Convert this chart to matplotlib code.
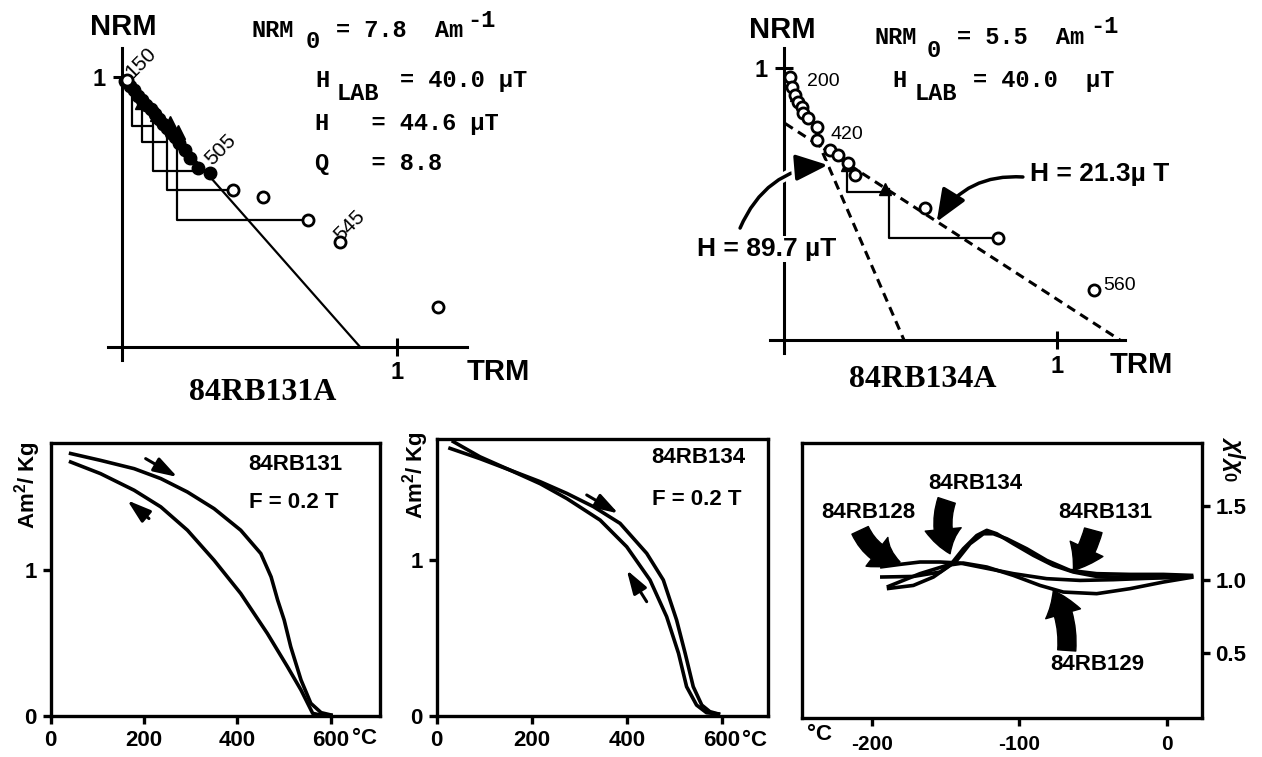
import numpy as np
import matplotlib.pyplot as plt
from matplotlib.patches import FancyArrowPatch
import matplotlib.patheffects as pe

plt.rcParams['font.family'] = ['Liberation Sans', 'DejaVu Sans']
plt.rcParams['mathtext.fontset'] = 'custom'
plt.rcParams['mathtext.rm'] = 'Liberation Sans:bold'
plt.rcParams['mathtext.bf'] = 'Liberation Sans:bold'
plt.rcParams['mathtext.it'] = 'Liberation Sans:bold:italic'

W, H = 1262, 757
SANS = 'Liberation Sans'
MONO = 'Liberation Mono'
SERIF = 'Liberation Serif'

# ---------------- Arai data, 84RB131A ----------------
fill131_x = [0.012, 0.03, 0.045, 0.06, 0.075, 0.09, 0.105, 0.12, 0.135, 0.15, 0.165,
             0.18, 0.195, 0.21, 0.23, 0.248, 0.279, 0.321]
fill131_y = [0.985, 0.965, 0.95, 0.93, 0.915, 0.895, 0.88, 0.86, 0.845, 0.825, 0.81,
             0.79, 0.775, 0.755, 0.729, 0.698, 0.661, 0.642]
open131_x = [0.018, 0.406, 0.513, 0.679, 0.794, 1.151]
open131_y = [0.988, 0.580, 0.553, 0.469, 0.389, 0.146]
tri131_x = [0.075, 0.13, 0.176, 0.206]
tri131_y = [0.905, 0.86, 0.828, 0.796]
# pTRM check steps: vertical x, top, bottom, horizontal end
step131_xv = [0.036, 0.073, 0.115, 0.166, 0.200]
step131_top = [0.955, 0.915, 0.865, 0.810, 0.770]
step131_bot = [0.817, 0.759, 0.652, 0.580, 0.469]
step131_xh = [0.110, 0.160, 0.273, 0.406, 0.679]
fit131_x = [0.0, 0.866]
fit131_y = [1.0, 0.0]
temp131 = ['150', '505', '545']
temp131_x = [0.05, 0.34, 0.81]
temp131_y = [0.98, 0.66, 0.376]

# ---------------- Arai data, 84RB134A ----------------
open134_x = [0.022, 0.028, 0.040, 0.053, 0.065, 0.071, 0.089, 0.120, 0.120, 0.169,
             0.199, 0.236, 0.260, 0.517, 0.786, 1.136]
open134_y = [0.969, 0.932, 0.902, 0.877, 0.859, 0.834, 0.816, 0.785, 0.736, 0.699,
             0.681, 0.650, 0.607, 0.485, 0.374, 0.184]
tri134_x = [0.045, 0.23, 0.37]
tri134_y = [0.90, 0.645, 0.555]
step134_xv = [0.230, 0.385]
step134_top = [0.64, 0.555]
step134_bot = [0.543, 0.374]
step134_xh = [0.370, 0.786]
fitlow134_x = [0.12, 0.44]
fitlow134_y = [0.74, 0.0]
fithigh134_x = [0.004, 1.232]
fithigh134_y = [0.797, 0.0]
temp134 = ['200', '420', '560']
temp134_x = [0.083, 0.169, 1.17]
temp134_y = [0.951, 0.756, 0.20]

# ---------------- thermomagnetic curves ----------------
heat131_T = [43, 107, 179, 236, 293, 350, 407, 450, 472, 486, 500, 514, 536, 557, 579, 600]
heat131_M = [1.80, 1.753, 1.696, 1.628, 1.536, 1.422, 1.274, 1.114, 0.954, 0.795, 0.658,
             0.475, 0.247, 0.087, 0.023, 0.007]
cool131_T = [43, 107, 179, 236, 293, 350, 407, 464, 507, 536, 561, 580, 600]
cool131_M = [1.742, 1.662, 1.548, 1.434, 1.274, 1.068, 0.840, 0.566, 0.338, 0.178,
             0.018, 0.005, 0.005]

heat134_T = [35, 91, 154, 218, 274, 330, 386, 442, 477, 505, 523, 540, 558, 575, 593]
heat134_M = [1.759, 1.662, 1.577, 1.502, 1.427, 1.342, 1.235, 1.043, 0.872, 0.615,
             0.402, 0.188, 0.07, 0.028, 0.013]
cool134_T = [28, 91, 154, 218, 274, 344, 400, 449, 484, 509, 526, 547, 568, 593]
cool134_M = [1.716, 1.65, 1.577, 1.489, 1.394, 1.256, 1.085, 0.872, 0.637, 0.402,
             0.188, 0.07, 0.021, 0.013]

# ---------------- low temperature susceptibility ----------------
chi134_T = [-189.8, -171.8, -158.2, -146.9, -137.9, -128.8, -122, -115.3, -104, -90.4,
            -76.9, -63.3, -47.5, -24.9, -2.3, 18]
chi134_k = [0.939, 0.961, 1.018, 1.097, 1.21, 1.30, 1.335, 1.312, 1.244, 1.165,
            1.097, 1.052, 1.022, 1.014, 1.018, 1.022]
chi131_T = [-194.4, -171.8, -153.7, -142.4, -133.4, -124.3, -117.6, -108.5, -94.9,
            -81.4, -65.6, -47.5, -24.9, -2.3, 18]
chi131_k = [1.018, 1.022, 1.052, 1.131, 1.244, 1.312, 1.312, 1.278, 1.21, 1.131,
            1.063, 1.041, 1.036, 1.036, 1.029]
chi128_T = [-194.4, -180.8, -167.3, -153.7, -140.1, -126.6, -104, -81.4, -58.8, -36.2,
            -13.6, 18]
chi128_k = [1.086, 1.104, 1.12, 1.12, 1.113, 1.086, 1.041, 1.007, 0.995, 1.0, 1.009, 1.018]
chi129_T = [-189.8, -167.3, -149.2, -137.9, -122, -104, -85.9, -70.1, -47.5, -24.9,
            -2.3, 18]
chi129_k = [0.95, 1.041, 1.097, 1.113, 1.086, 1.029, 0.961, 0.916, 0.905, 0.939,
            0.984, 1.018]
chi_names = ['84RB128', '84RB134', '84RB131', '84RB129']
chi_lab_x = [-202.5, -130, -41.4, -47.2]
chi_lab_y = [1.457, 1.65, 1.459, 0.425]
chi_tail_x = [-207.9, -149.2, -49.8, -67.8]
chi_tail_y = [1.335, 1.538, 1.335, 0.52]
chi_head_x = [-180.8, -146.9, -63.3, -76.9]
chi_head_y = [1.12, 1.176, 1.063, 0.927]
chi_rad = [0.25, 0.2, -0.1, 0.15]


fig = plt.figure(figsize=(W / 100, H / 100), dpi=100)


def rect(left, right, top, bottom):
    return [left / W, 1 - bottom / H, (right - left) / W, (bottom - top) / H]


def ftext(px, py, s, **kw):
    return fig.text(px / W, 1 - py / H, s, **kw)


def arai_axes(r, xlim, ylim):
    ax = fig.add_axes(r)
    ax.patch.set_alpha(0)
    ax.set_xlim(xlim)
    ax.set_ylim(ylim)
    for s in ['top', 'right']:
        ax.spines[s].set_visible(False)
    for s in ['left', 'bottom']:
        ax.spines[s].set_position(('data', 0))
        ax.spines[s].set_linewidth(2.2)
    ax.set_xticks([1])
    ax.set_yticks([1])
    ax.set_xticklabels(['1'], fontsize=17, fontweight='bold')
    ax.set_yticklabels(['1'], fontsize=17, fontweight='bold')
    ax.tick_params(direction='inout', length=13, width=2.2)
    ax.tick_params(axis='x', pad=4)
    ax.tick_params(axis='y', pad=5)
    return ax


def steps(ax, xv, top, bot, xh):
    for a, b, c, d in zip(xv, top, bot, xh):
        ax.plot([a, a, d], [b, c, c], color='black', lw=1.6, zorder=2)


# ================= top left Arai =================
ax1 = arai_axes(rect(108, 467, 48, 360), (-0.0498, 1.2556), (-0.0493, 1.1063))
ax1.plot(fit131_x, fit131_y, color='black', lw=1.6, zorder=2)
steps(ax1, step131_xv, step131_top, step131_bot, step131_xh)
ax1.plot(fill131_x, fill131_y, 'o', ms=9, color='black', zorder=3)
ax1.plot(tri131_x, tri131_y, '^', ms=10, color='black', zorder=3)
ax1.plot(open131_x, open131_y, 'o', ms=8, mfc='white', mec='black', mew=2, zorder=4)
for t, x, y in zip(temp131, temp131_x, temp131_y):
    ax1.text(x, y, t, fontsize=15, rotation=45, rotation_mode='anchor',
             ha='left', va='bottom')

ftext(90, 35, 'NRM', fontsize=21, fontweight='bold')
ftext(467, 380, 'TRM', fontsize=21, fontweight='bold')
ftext(263, 400, '84RB131A', family=SERIF, fontsize=23, fontweight='bold', ha='center')
mono = dict(family=MONO, fontsize=17, fontweight='bold')
ftext(252, 37, 'NRM', **mono)
ftext(306, 48, '0', **mono)
ftext(336, 37, '= 7.8  Am', **mono)
ftext(467, 27, '-1', **mono)
ftext(315, 87, 'H', **mono)
ftext(337, 100, 'LAB', **mono)
ftext(400, 87, '= 40.0 µT', **mono)
ftext(315, 130, 'H   = 44.6 µT', **mono)
ftext(315, 170, 'Q   = 8.8', **mono)

# ================= top right Arai =================
ax2 = arai_axes(rect(770, 1125, 48.3, 353.3), (-0.0513, 1.2504), (-0.0489, 1.0736))
ax2.plot(fitlow134_x, fitlow134_y, color='black', lw=2.2, ls=(0, (3, 2)), zorder=2)
ax2.plot(fithigh134_x, fithigh134_y, color='black', lw=2.2, ls=(0, (3, 2)), zorder=2)
steps(ax2, step134_xv, step134_top, step134_bot, step134_xh)
ax2.plot(tri134_x, tri134_y, '^', ms=9, color='black', zorder=3)
ax2.plot(open134_x, open134_y, 'o', ms=8, mfc='white', mec='black', mew=2, zorder=4)
for t, x, y in zip(temp134, temp134_x, temp134_y):
    ax2.text(x, y, t, fontsize=14, ha='left', va='center')

a = FancyArrowPatch((-0.161, 0.412), (0.161, 0.644), connectionstyle='arc3,rad=-0.3',
                    arrowstyle='-|>,head_length=1.1,head_width=0.45', mutation_scale=18,
                    lw=2.5, color='black', zorder=5, shrinkA=0, shrinkB=0,
                    path_effects=[pe.withStroke(linewidth=7, foreground='white')])
a.set_clip_on(False)
ax2.add_patch(a)
a = FancyArrowPatch((0.876, 0.60), (0.56, 0.435), connectionstyle='arc3,rad=0.3',
                    arrowstyle='-|>,head_length=1.1,head_width=0.45', mutation_scale=18,
                    lw=2.5, color='black', zorder=5, shrinkA=0, shrinkB=0)
a.set_clip_on(False)
ax2.add_patch(a)

ftext(749, 38, 'NRM', fontsize=21, fontweight='bold')
ftext(1110, 373, 'TRM', fontsize=21, fontweight='bold')
ftext(923, 387, '84RB134A', family=SERIF, fontsize=23, fontweight='bold', ha='center')
ftext(875, 44, 'NRM', **mono)
ftext(927, 57, '0', **mono)
ftext(957, 44, '= 5.5  Am', **mono)
ftext(1090, 33, '-1', **mono)
ftext(892, 87, 'H', **mono)
ftext(915, 100, 'LAB', **mono)
ftext(973, 87, '= 40.0  µT', **mono)
ftext(1030, 181, 'H = 21.3µ T', fontsize=19, fontweight='bold')
ftext(697, 256, 'H = 89.7 µT', fontsize=19, fontweight='bold', zorder=6,
      bbox=dict(fc='white', ec='none', pad=1))


# ================= bottom panels =================
def frame(ax):
    for s in ax.spines.values():
        s.set_linewidth(2.4)
    ax.tick_params(direction='out', length=6, width=2.4, labelsize=16, pad=4)
    for lab in ax.get_xticklabels() + ax.get_yticklabels():
        lab.set_fontweight('bold')


def small_arrow(ax, p0, p1):
    ax.add_patch(FancyArrowPatch(p0, p1, arrowstyle='-|>,head_length=1.1,head_width=0.35',
                                 mutation_scale=13, lw=2.2, color='black',
                                 shrinkA=0, shrinkB=0))


b1 = fig.add_axes(rect(50.5, 380, 443.3, 716))
b1.plot(heat131_T, heat131_M, color='black', lw=2.6)
b1.plot(cool131_T, cool131_M, color='black', lw=2.6)
b1.set_xlim(0, 705)
b1.set_ylim(0, 1.87)
b1.set_xticks([0, 200, 400, 600])
b1.set_yticks([0, 1])
frame(b1)
small_arrow(b1, (203.6, 1.765), (271.4, 1.639))
small_arrow(b1, (210.7, 1.354), (164.3, 1.479))
b1.text(424, 1.726, '84RB131', fontsize=16, fontweight='bold', va='center')
b1.text(424, 1.466, 'F = 0.2 T', fontsize=16, fontweight='bold', va='center')
ftext(352, 739, '°C', fontsize=16, fontweight='bold', va='center')
ftext(28, 485, 'Am$^{2}$/ Kg', fontsize=16, fontweight='bold', rotation=90,
      ha='center', va='center')

b2 = fig.add_axes(rect(436.7, 768.3, 439.3, 716))
b2.plot(heat134_T, heat134_M, color='black', lw=2.6)
b2.plot(cool134_T, cool134_M, color='black', lw=2.6)
b2.set_xlim(0, 698)
b2.set_ylim(0, 1.774)
b2.set_xticks([0, 200, 400, 600])
b2.set_yticks([0, 1])
frame(b2)
small_arrow(b2, (315.8, 1.417), (382.3, 1.299))
small_arrow(b2, (442, 0.733), (400, 0.936))
b2.text(452.6, 1.657, '84RB134', fontsize=16, fontweight='bold', va='center')
b2.text(452.6, 1.391, 'F = 0.2 T', fontsize=16, fontweight='bold', va='center')
ftext(742, 740, '°C', fontsize=16, fontweight='bold', va='center')
ftext(416, 475, 'Am$^{2}$/ Kg', fontsize=16, fontweight='bold', rotation=90,
      ha='center', va='center')

b3 = fig.add_axes(rect(801.7, 1201.7, 442.7, 718.3))
for T, k in [(chi128_T, chi128_k), (chi129_T, chi129_k), (chi131_T, chi131_k),
             (chi134_T, chi134_k)]:
    b3.plot(T, k, color='black', lw=2.6, solid_capstyle='butt')
b3.set_xlim(-247.5, 23.7)
b3.set_ylim(0.059, 1.93)
b3.set_xticks([-200, -100, 0])
b3.set_yticks([0.5, 1.0, 1.5])
b3.set_xticklabels(['-200', '-100', '0'])
b3.set_yticklabels(['0.5', '1.0', '1.5'])
b3.yaxis.tick_right()
frame(b3)
b3.tick_params(axis='x', pad=6, labelsize=15)
for name, lx, ly, tx, ty, hx, hy, r in zip(chi_names, chi_lab_x, chi_lab_y, chi_tail_x,
                                           chi_tail_y, chi_head_x, chi_head_y, chi_rad):
    b3.text(lx, ly, name, fontsize=16, fontweight='bold', ha='center', va='center')
    b3.add_patch(FancyArrowPatch((tx, ty), (hx, hy), connectionstyle=f'arc3,rad={r}',
                                 arrowstyle='simple,head_length=0.7,head_width=1.0,tail_width=0.5',
                                 mutation_scale=26, fc='black', ec='black',
                                 shrinkA=0, shrinkB=0))
ftext(820, 735, '°C', fontsize=16, fontweight='bold', ha='center', va='center')
ftext(1234, 459, r'$\chi/\chi_0$', fontsize=17, rotation=270, ha='center', va='center')

fig.savefig('out.png', dpi=100)
